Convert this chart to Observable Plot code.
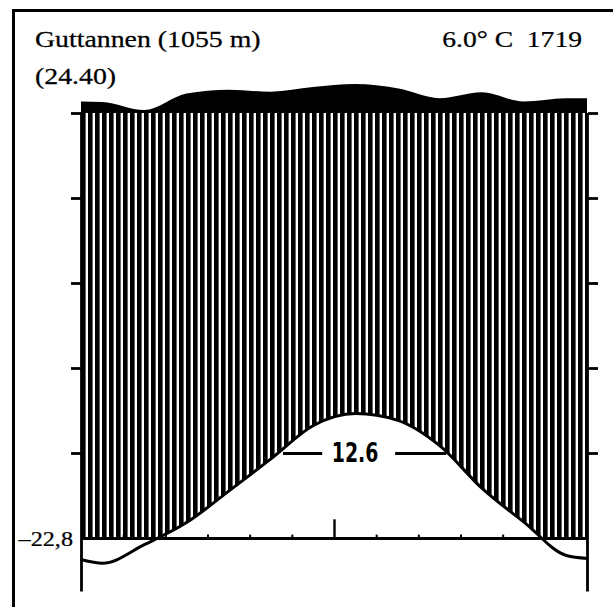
<!DOCTYPE html>
<html>
<head>
<meta charset="utf-8">
<script src="https://cdn.jsdelivr.net/npm/d3@7"></script>
<script src="https://cdn.jsdelivr.net/npm/@observablehq/plot@0.6"></script>
<style>
  html, body { margin: 0; padding: 0; background: #fff; }
  #wrap { position: relative; width: 613px; height: 607px; overflow: hidden; background: #fff; }
  #frame { position: absolute; left: 12px; top: 9px; width: 620px; height: 640px; border: 3px solid #000; box-sizing: border-box; }
  #chart { position: absolute; left: 0; top: 0; }
</style>
</head>
<body>
<div id="wrap"><div id="frame"></div><div id="chart"></div></div>
<script>
// ---------- data ----------
const months = ["Jan","Feb","Mar","Apr","May","Jun","Jul","Aug","Sep","Oct","Nov","Dec"];
const tempMonthly = [-2.9, -0.7, 1.9, 5.6, 9.4, 13.3, 14.7, 13.9, 10.9, 5.9, 1.9, -2.0]; // °C
const tempEdges = [-2.5, -2.35];       // curve value at the left / right edge
const precipMonthly = [126, 107, 146, 155, 150, 161, 168, 158, 135, 149, 127, 135]; // mm
const precipEdges = [127, 135];
const stationName = "Guttannen (1055 m)";
const stationYears = "(24.40)";
const annualInfo = "6.0° C  1719";
const absMinLabel = "–22,8";
const warmLabel = {text: "12.6", level: 10, pos: 6.5};
const warmSegments = [[4.79, 5.72], [7.45, 8.66]];  // month-units along the 10 °C level
const yTicks = [10, 20, 30, 40, 50];
const monthBounds = [1, 2, 3, 4, 5, 7, 8, 9, 10, 11];
const midYear = [6];

// ---------- layout ----------
const axisBottom = -6.3;   // temperature units, where the vertical axes end
const smallTick = 0.4, bigTick = 2.2;

// Walter-Lieth precipitation scale: 20 mm = 10 °C up to 100 mm, then 200 mm = 10 °C
const pScale = p => p <= 100 ? p / 2 : 50 + (p - 100) / 20;

const tempRows = [{x: 0, t: tempEdges[0]}]
  .concat(tempMonthly.map((t, i) => ({x: i + 0.5, t, m: months[i]})))
  .concat([{x: 12, t: tempEdges[1]}]);
const precRows = [{x: 0, p: precipEdges[0]}]
  .concat(precipMonthly.map((p, i) => ({x: i + 0.5, p, m: months[i]})))
  .concat([{x: 12, p: precipEdges[1]}]);

const curve = "monotone-x";

const svg = Plot.plot({
  width: 613, height: 607,
  marginLeft: 81, marginRight: 26, marginTop: 113, marginBottom: 69,
  x: {domain: [0, 12], axis: null},
  y: {domain: [0, 50]},
  style: {background: "transparent", overflow: "visible"},
  marks: [
    // hatched humid area between temperature curve and the 100 mm line
    Plot.areaY(tempRows, {x: "x", y1: "t", y2: 50, fill: "url(#hatch)", curve, clip: true}),
    // black area for precipitation above 100 mm
    Plot.areaY(precRows, {x: "x", y1: 50, y2: d => pScale(d.p), fill: "black", curve}),
    // axes
    Plot.ruleX([0, 12], {y1: axisBottom, y2: 50, stroke: "black", strokeWidth: 2.8}),
    Plot.ruleY([0], {stroke: "black", strokeWidth: 2.8}),
    Plot.axisY(yTicks, {anchor: "left", tickSize: 10, tickFormat: () => "", label: null, strokeWidth: 2.8}),
    Plot.axisY(yTicks, {anchor: "right", tickSize: 10, tickFormat: () => "", label: null, strokeWidth: 2.8}),
    Plot.ruleX(monthBounds, {y1: 0, y2: smallTick, stroke: "black", strokeWidth: 2}),
    Plot.ruleX(midYear, {y1: 0, y2: bigTick, stroke: "black", strokeWidth: 2.4}),
    // temperature curve
    Plot.line(tempRows, {x: "x", y: "t", stroke: "black", strokeWidth: 3, curve}),
    // 10 °C annotation
    Plot.ruleY(warmSegments, {x1: d => d[0], x2: d => d[1], y: warmLabel.level, stroke: "black", strokeWidth: 2.8}),
    Plot.text([warmLabel], {x: "pos", y: "level", text: "text", fontSize: 27, fontWeight: "bold",
      fontFamily: "'DejaVu Sans', sans-serif", fill: "black"})
  ]
});

const s = d3.select(svg);
// narrow the bold label around its own centre
{
  const cx = svg.scale("x").apply(warmLabel.pos), cy = svg.scale("y").apply(warmLabel.level);
  s.selectAll("g[aria-label='text']")
    .attr("transform", `translate(${cx},${cy}) scale(0.7,1) translate(${-cx},${-cy})`);
}

// hatch pattern
const defs = s.insert("defs", ":first-child");
const pat = defs.append("pattern").attr("id", "hatch").attr("patternUnits", "userSpaceOnUse")
  .attr("x", 81).attr("y", 0).attr("width", 7).attr("height", 10);
pat.append("rect").attr("x", 0).attr("y", 0).attr("width", 4.6).attr("height", 10).attr("fill", "black");

// texts
const serif = "'Liberation Serif', 'Times New Roman', serif";
function addText(tr, anchor, size, str) {
  s.append("text").attr("transform", tr).attr("text-anchor", anchor)
    .attr("font-family", serif).attr("font-size", size).attr("fill", "black")
    .attr("stroke", "black").attr("stroke-width", 0.25)
    .style("white-space", "pre").text(str);
}
addText("translate(35,47) scale(1.21,1)", "start", 23, stationName);
addText("translate(35,84) scale(1.21,1)", "start", 23, stationYears);
addText("translate(582,47) scale(1.2,1)", "end", 23, annualInfo);
addText("translate(73,546) scale(1.1,1)", "end", 22, absMinLabel);

document.getElementById("chart").appendChild(svg);
</script>
</body>
</html>
